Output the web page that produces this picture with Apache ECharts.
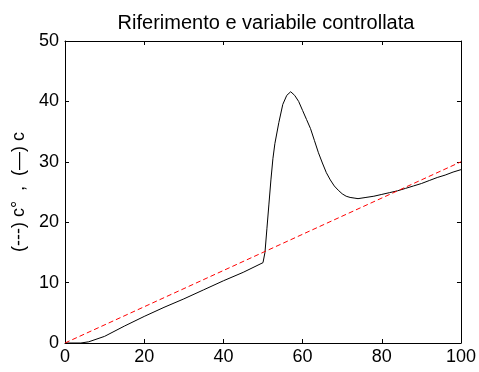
<!DOCTYPE html>
<html><head><meta charset="utf-8">
<script src="https://cdn.jsdelivr.net/npm/echarts@6/dist/echarts.min.js"></script>
<style>html,body{margin:0;padding:0;background:#fff}#c{width:479px;height:372px}</style>
</head><body><div id="c"></div>
<script>
const titleText = "Riferimento e variabile controllata";
const yName = "(---) c°  ,  (—) c";
const xTicks = [0, 20, 40, 60, 80, 100];
const yTicks = [0, 10, 20, 30, 40, 50];
const outX = [0,4,6,10,15,20,25,30,35,40,45,50,50.5,51,51.5,52,52.5,53,54,55,56,57,58,59,60,61,62,63,64,65,66,67,68,69,70,71,72,73,74,75,76,78,80,82,84,86,88,90,92,94,96,98,100];
const outY = [0,0,0.2,1.1,2.8,4.4,5.9,7.3,8.8,10.3,11.7,13.3,15,19,23,27,30.5,33,36.5,39.5,41,41.6,41,40,38.5,37,35.5,33.5,31.5,29.8,28.2,27,26,25.3,24.7,24.3,24.1,24,23.9,24,24.1,24.3,24.6,24.9,25.2,25.6,26,26.4,26.9,27.4,27.8,28.3,28.7];
const refX = [0, 100];
const refY = [0, 30];

const font = "Liberation Sans, Arial, sans-serif";
const chart = echarts.init(document.getElementById('c'));
const axisCommon = {
  min: 0, axisLine: {show: true, onZero: false, lineStyle: {color: '#000', width: 1}},
  axisTick: {show: true, inside: true, length: 4, lineStyle: {color: '#000'}},
  splitLine: {show: false}
};
chart.setOption({
  animation: false,
  backgroundColor: '#fff',
  title: {text: titleText, left: 261, top: 8, textAlign: 'center',
    textStyle: {fontFamily: font, fontSize: 20, fontWeight: 'normal', color: '#000'}},
  grid: {left: 65, right: 17, top: 41, bottom: 29},
  xAxis: [
    Object.assign({}, axisCommon, {type: 'value', position: 'bottom', max: 100, interval: 20,
      axisLabel: {color: '#000', fontFamily: font, fontSize: 18, margin: 5,
        formatter: v => xTicks.includes(v) ? String(v) : ''}}),
    Object.assign({}, axisCommon, {type: 'value', position: 'top', max: 100, interval: 20,
      axisLabel: {show: false}})
  ],
  yAxis: [
    Object.assign({}, axisCommon, {type: 'value', position: 'left', max: 50, interval: 10,
      name: yName, nameLocation: 'middle', nameGap: 36, nameRotate: 90,
      nameTextStyle: {fontFamily: font, fontSize: 18, color: '#000'},
      axisLabel: {color: '#000', fontFamily: font, fontSize: 18, margin: 6,
        formatter: v => yTicks.includes(v) ? String(v) : ''}}),
    Object.assign({}, axisCommon, {type: 'value', position: 'right', max: 50, interval: 10,
      axisLabel: {show: false}})
  ],
  series: [
    {type: 'line', data: refX.map((x, i) => [x, refY[i]]), showSymbol: false,
      lineStyle: {color: '#ff0000', width: 1, type: [5, 3]}, z: 3},
    {type: 'line', data: outX.map((x, i) => [x, outY[i]]), showSymbol: false,
      lineStyle: {color: '#000', width: 1}, z: 2}
  ]
});
</script></body></html>
